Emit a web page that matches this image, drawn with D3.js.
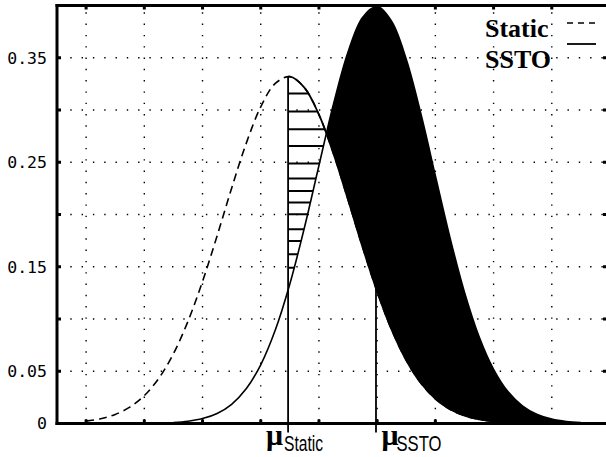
<!DOCTYPE html>
<html>
<head>
<meta charset="utf-8">
<script src="https://cdn.jsdelivr.net/npm/d3@7"></script>
<style>
  html, body { margin: 0; padding: 0; background: #fff; }
  svg { display: block; }
</style>
</head>
<body>
<svg id="chart" width="606" height="457"></svg>
<script>
// ---------------- data ----------------
const staticU = [0,0.25,0.5,0.75,1,1.25,1.5,1.75,2,2.25,2.5,2.75,3,3.25,3.5,3.75,4,4.25,4.5,4.75,5,5.25,5.5,5.75,6,6.25,6.5,6.75,7,7.25,7.5,7.75,8,8.25,8.5];
const staticV = [0.0023,0.0046,0.0087,0.0156,0.0267,0.0433,0.0668,0.0978,0.1359,0.1795,0.2251,0.268,0.303,0.3254,0.3319,0.3214,0.2956,0.2582,0.2141,0.1687,0.1262,0.0896,0.0605,0.0387,0.0236,0.0136,0.0075,0.0039,0.0019,0.0009,0.0004,0.0002,0.0001,0,0];

const sstoU = [1.5,1.75,2,2.25,2.5,2.75,3,3.25,3.5,3.75,4,4.25,4.5,4.75,5,5.25,5.5,5.75,6,6.25,6.5,6.75,7,7.25,7.5,7.75,8,8.25,8.5];
const sstoV = [0.0009,0.0022,0.0047,0.0096,0.0184,0.0332,0.0562,0.0894,0.1335,0.1873,0.2469,0.3057,0.3556,0.3886,0.3989,0.3847,0.3485,0.2966,0.2372,0.1781,0.1257,0.0833,0.0519,0.0303,0.0167,0.0086,0.0042,0.0019,0.0008];

const seriesNames = ["Static", "SSTO"];
const muValues = [3.47, 4.98];          // mu_Static, mu_SSTO
const muPeaks = [0.332, 0.3989];
const muSubs = ["Static", "SSTO"];

const yTickValues = [0, 0.05, 0.1, 0.15, 0.2, 0.25, 0.3, 0.35];
const yTickLabels = ["0", "0.05", "", "0.15", "", "0.25", "", "0.35"];
const xGridValues = [0, 1, 2, 3, 4, 5, 6, 7, 8];
const hatchLevels = [0.3158, 0.2986, 0.2816, 0.2656, 0.2488, 0.2344, 0.2225, 0.2114, 0.2002, 0.1858, 0.1746, 0.1619, 0.1491];

// ---------------- layout ----------------
const svg = d3.select("#chart");
const L = 57, T = 5.5, R = 606, B = 423.5;
const x = d3.scaleLinear().domain([-0.5, 9]).range([L, 610]);
const y = d3.scaleLinear().domain([0, 0.4]).range([B, T]);

const staticData = staticU.map((u, i) => ({u, v: staticV[i]}));
const sstoData = sstoU.map((u, i) => ({u, v: sstoV[i]}));
const curve = d3.curveCatmullRom;

const defs = svg.append("defs");

// grid
const grid = svg.append("g").attr("stroke", "#000").attr("stroke-width", 1.4)
  .attr("stroke-dasharray", "1.4 9.9").attr("fill", "none");
xGridValues.forEach(g => {
  grid.append("line").attr("x1", x(g)).attr("x2", x(g)).attr("y1", B - 3).attr("y2", T + 2);
});
yTickValues.filter(v => v > 0).forEach(v => {
  grid.append("line").attr("x1", L + 2).attr("x2", R).attr("y1", y(v)).attr("y2", y(v));
});

// clip paths
const areaUnder = (data) => d3.area().curve(curve).x(d => x(d.u)).y0(B + 8).y1(d => y(d.v))(data);
const areaAbove = (data) => d3.area().curve(curve).x(d => x(d.u)).y0(d => y(d.v)).y1(0)(data);

defs.append("clipPath").attr("id", "underS").append("path").attr("d", areaUnder(staticData));
defs.append("clipPath").attr("id", "aboveS").append("path").attr("d", areaAbove(staticData));
defs.append("clipPath").attr("id", "underT").append("path").attr("d", areaUnder(sstoData));
defs.append("clipPath").attr("id", "aboveT").append("path").attr("d", areaAbove(sstoData));
defs.append("clipPath").attr("id", "rightOfMu").append("rect")
  .attr("x", x(muValues[0])).attr("y", 0).attr("width", 700).attr("height", 500);
defs.append("clipPath").attr("id", "plotArea").append("rect")
  .attr("x", L).attr("y", T).attr("width", R - L).attr("height", B - T);

// black region: under SSTO and above Static
svg.append("g").attr("clip-path", "url(#underT)")
  .append("g").attr("clip-path", "url(#aboveS)")
  .append("rect").attr("x", L).attr("y", 0).attr("width", R - L).attr("height", B + 1)
  .attr("fill", "#000");

// hatched region: under Static, above SSTO, right of mu_Static
const hatch = svg.append("g").attr("clip-path", "url(#rightOfMu)")
  .append("g").attr("clip-path", "url(#underS)")
  .append("g").attr("clip-path", "url(#aboveT)");
hatchLevels.forEach(h => {
  hatch.append("line").attr("x1", L).attr("x2", R).attr("y1", y(h)).attr("y2", y(h))
    .attr("stroke", "#000").attr("stroke-width", 2);
});

// curves
const line = d3.line().curve(curve).x(d => x(d.u)).y(d => y(d.v));
const curves = svg.append("g").attr("clip-path", "url(#plotArea)");
curves.append("path").attr("d", line(staticData)).attr("fill", "none")
  .attr("stroke", "#000").attr("stroke-width", 1.6).attr("stroke-dasharray", "8 5");
curves.append("g").attr("clip-path", "url(#rightOfMu)")
  .append("path").attr("d", line(staticData)).attr("fill", "none")
  .attr("stroke", "#000").attr("stroke-width", 1.8);
curves.append("path").attr("d", line(sstoData)).attr("fill", "none")
  .attr("stroke", "#000").attr("stroke-width", 1.6);

// mu lines
muValues.forEach((m, i) => {
  svg.append("line").attr("x1", x(m)).attr("x2", x(m)).attr("y1", B + 9).attr("y2", y(muPeaks[i]))
    .attr("stroke", "#000").attr("stroke-width", 1.8);
});

// frame
const frame = svg.append("g").attr("stroke", "#000").attr("stroke-width", 3).attr("fill", "none");
frame.append("line").attr("x1", L).attr("x2", L).attr("y1", T - 1.5).attr("y2", B + 1.5);
frame.append("line").attr("x1", L - 1.5).attr("x2", R).attr("y1", T).attr("y2", T);
frame.append("line").attr("x1", L - 1.5).attr("x2", R).attr("y1", B).attr("y2", B);

// tick squares
const ticks = svg.append("g").attr("fill", "#000");
yTickValues.filter(v => v > 0).forEach(v => {
  ticks.append("rect").attr("x", L + 1).attr("y", y(v) - 1.5).attr("width", 3).attr("height", 3);
  ticks.append("rect").attr("x", R - 3).attr("y", y(v) - 1.5).attr("width", 3).attr("height", 3);
});
xGridValues.forEach(g => {
  ticks.append("rect").attr("x", x(g) - 1.5).attr("y", T + 1).attr("width", 3).attr("height", 3);
  ticks.append("rect").attr("x", x(g) - 1.5).attr("y", B - 4).attr("width", 3).attr("height", 3);
});

// y axis labels via d3 axis
const yAxis = d3.axisLeft(y).tickValues(yTickValues).tickSize(0).tickPadding(10)
  .tickFormat((d, i) => yTickLabels[i]);
const ya = svg.append("g").attr("transform", `translate(${L},0)`).call(yAxis);
ya.select(".domain").remove();
ya.selectAll("text").attr("font-family", "'DejaVu Sans Mono', monospace")
  .attr("font-size", 16.5).attr("fill", "#000");

// mu labels
const muX = [-22, 5.5];   // mu glyph offset from its line
const subX = [-4, 20.5];  // subscript offset from its line
const subW = [39, 45];
muValues.forEach((m, i) => {
  const gx = x(m);
  const g = svg.append("g");
  g.append("text").attr("x", gx + muX[i]).attr("y", 445).text("μ")
    .attr("font-family", "'Liberation Serif', serif").attr("font-weight", "bold")
    .attr("font-size", 30).attr("fill", "#000");
  g.append("text").attr("x", gx + subX[i]).attr("y", 450.5).text(muSubs[i])
    .attr("font-family", "'Liberation Sans Narrow', 'Liberation Sans', sans-serif")
    .attr("font-size", 22.5).attr("textLength", subW[i]).attr("lengthAdjust", "spacingAndGlyphs")
    .attr("fill", "#000");
});

// legend
const leg = svg.append("g");
leg.append("text").attr("x", 485).attr("y", 37).text(seriesNames[0])
  .attr("font-family", "'Liberation Serif', serif").attr("font-weight", "bold")
  .attr("font-size", 26).attr("fill", "#000");
leg.append("text").attr("x", 485).attr("y", 68).text(seriesNames[1])
  .attr("font-family", "'Liberation Serif', serif").attr("font-weight", "bold")
  .attr("font-size", 26).attr("fill", "#000");
leg.append("line").attr("x1", 567).attr("x2", 596).attr("y1", 23).attr("y2", 23)
  .attr("stroke", "#000").attr("stroke-width", 1.6).attr("stroke-dasharray", "6 5");
leg.append("line").attr("x1", 567).attr("x2", 596).attr("y1", 44).attr("y2", 44)
  .attr("stroke", "#000").attr("stroke-width", 1.8);
</script>
</body>
</html>
